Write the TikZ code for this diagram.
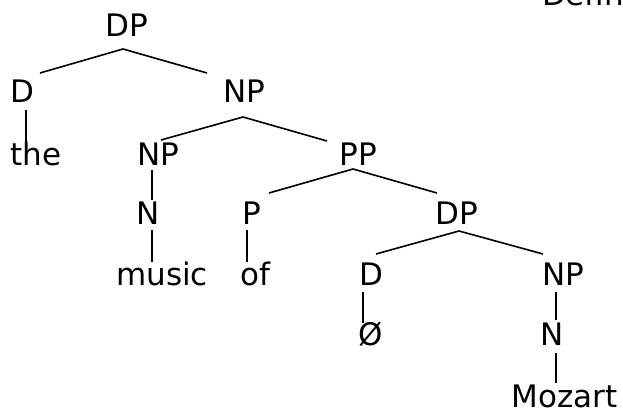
\documentclass[tikz,border=0pt]{standalone}
\usepackage{fontspec}
\setmainfont{DejaVu Sans}
\usetikzlibrary{calc}
\tikzset{
  lbl/.style={anchor=base, inner sep=0pt, outer sep=0pt, font=\fontsize{31}{37}\selectfont},
  br/.style={line width=1.6pt, line cap=butt}
}
\begin{document}
\begin{tikzpicture}[x=1pt,y=-1pt]
\useasboundingbox (0,0) rectangle (623,414);
\fill[white] (0,0) rectangle (623,414);
% nodes
\node[lbl] (dp0) at (127,37) {DP};
\node[lbl] (d1) at (22,103) {D};
\node[lbl] (np1) at (244,103) {NP};
\node[lbl] (the) at (36,165) {the};
\node[lbl] (np2) at (158,165) {NP};
\node[lbl] (pp) at (358,165) {PP};
\node[lbl] (n2) at (148,224) {N};
\node[lbl] (p) at (252,224) {P};
\node[lbl] (dp3) at (457,224) {DP};
\node[lbl] (music) at (162,285) {music};
\node[lbl] (of) at (255,285) {of};
\node[lbl] (d4) at (371,285) {D};
\node[lbl] (np4) at (563,285) {NP};
\node[lbl] (null) at (371,345) {Ø};
\node[lbl] (n5) at (552,345) {N};
\node[lbl] (mozart) at (564.5,407) {Mozart};
\node[lbl, anchor=base west] (defin) at (542,6) {Defin};
% branches
\draw[br] ($(dp0.base)+(18-22,0)+(0,12)$) coordinate (a0) -- ($(d1.base)+(18,-30)$);
\draw[br] (a0) -- ($(np1.base)+(-37,-30)$);
\draw[br] ($(d1.base)+(4,7)$) -- ($(the.base)+(-10,-22)$);
\draw[br] ($(np1.base)+(-1,14)$) coordinate (a1) -- ($(np2.base)+(3,-25)$);
\draw[br] (a1) -- ($(pp.base)+(-31,-24)$);
\draw[br] ($(np2.base)+(-6,5)$) -- ($(n2.base)+(4,-24)$);
\draw[br] ($(n2.base)+(4,6)$) -- ($(music.base)+(-10,-23)$);
\draw[br] ($(pp.base)+(-5,4)$) coordinate (a2) -- ($(p.base)+(17,-31)$);
\draw[br] (a2) -- ($(dp3.base)+(-20,-31)$);
\draw[br] ($(p.base)+(-5,6)$) -- ($(of.base)+(-8,-23)$);
\draw[br] ($(dp3.base)+(2,7)$) coordinate (a3) -- ($(d4.base)+(5,-31)$);
\draw[br] (a3) -- ($(np4.base)+(-20,-31)$);
\draw[br] ($(d4.base)+(-8,7)$) -- ($(null.base)+(-8,-22)$);
\draw[br] ($(np4.base)+(-7,7)$) -- ($(n5.base)+(4,-25)$);
\draw[br] ($(n5.base)+(4,8)$) -- ($(mozart.base)+(-8.5,-24)$);
\end{tikzpicture}
\end{document}
